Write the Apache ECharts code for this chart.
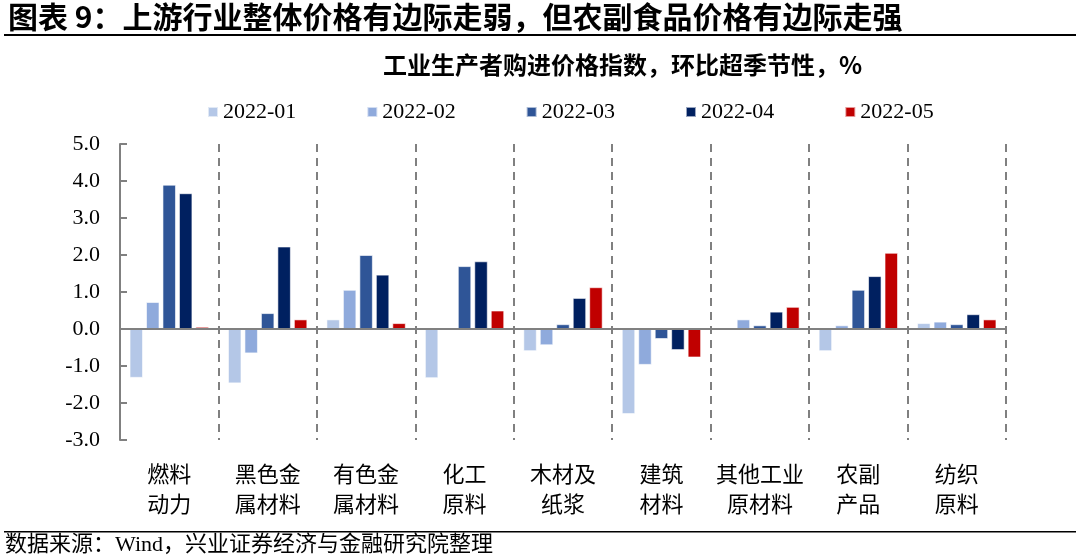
<!DOCTYPE html>
<html><head><meta charset="utf-8">
<script src="https://cdn.jsdelivr.net/npm/echarts@6/dist/echarts.min.js"></script>
<style>html,body{margin:0;padding:0;background:#fff}#c{width:1080px;height:560px}</style>
</head><body><div id="c"></div>
<script>
const categories = ['燃料\n动力','黑色金\n属材料','有色金\n属材料','化工\n原料','木材及\n纸浆','建筑\n材料','其他工业\n原材料','农副\n产品','纺织\n原料'];
const seriesNames = ['2022-01','2022-02','2022-03','2022-04','2022-05'];
const s202201 = [-1.32, -1.47, 0.26, -1.33, -0.60, -2.30, 0.00, -0.60, 0.16];
const s202202 = [0.73, -0.66, 1.06, 0.00, -0.44, -0.97, 0.26, 0.10, 0.20];
const s202203 = [3.90, 0.43, 2.00, 1.70, 0.13, -0.27, 0.10, 1.06, 0.13];
const s202204 = [3.67, 2.23, 1.47, 1.83, 0.84, -0.57, 0.47, 1.43, 0.40];
const s202205 = [0.06, 0.26, 0.16, 0.50, 1.13, -0.77, 0.60, 2.06, 0.26];
const yTicks = {min: -3, max: 5, interval: 1};
const colors = ['#B4C7E7','#8FAADC','#2F5597','#002060','#C00000'];
const allData = [s202201, s202202, s202203, s202204, s202205];

const serif = '"Liberation Serif","Noto Sans CJK SC"';
const chart = echarts.init(document.getElementById('c'));
const series = seriesNames.map((n, i) => ({
  name: n, type: 'bar', data: allData[i], barWidth: 13.5, barGap: '22%',
  itemStyle: {color: colors[i], borderColor: 'rgba(255,255,255,0.6)', borderWidth: 1},
  markLine: i === 0 ? {silent: true, symbol: 'none', label: {show: false},
    lineStyle: {color: '#808080', width: 2, type: 'solid'}, data: [{yAxis: 0}]} : undefined
}));
chart.setOption({
  animation: false,
  color: colors,
  grid: {left: 120, right: 74, top: 144, bottom: 120},
  legend: {
    data: seriesNames, left: 202, top: 96, itemWidth: 10, itemHeight: 10, itemGap: 70,
    icon: 'rect', textStyle: {fontFamily: serif, fontSize: 22, color: '#000'}
  },
  xAxis: {
    type: 'category', data: categories,
    axisLine: {show: false}, axisTick: {show: false},
    axisLabel: {fontFamily: '"Noto Sans CJK SC"', fontSize: 22, color: '#000', lineHeight: 30, margin: 19, interval: 0},
    splitLine: {show: true, lineStyle: {color: '#808080', width: 2, type: [8, 6]}}
  },
  yAxis: {
    type: 'value', min: yTicks.min, max: yTicks.max, interval: yTicks.interval,
    axisLine: {show: true, lineStyle: {color: '#808080', width: 2}},
    axisTick: {show: true, inside: true, length: 7, lineStyle: {color: '#808080', width: 2}},
    splitLine: {show: false},
    axisLabel: {fontFamily: serif, fontSize: 22, color: '#000', margin: 20, formatter: v => v.toFixed(1)}
  },
  graphic: [
    {type: 'text', left: 8, top: 2, style: {text: '图表 9：上游行业整体价格有边际走弱，但农副食品价格有边际走强', font: 'bold 30px "Noto Sans CJK SC"', fill: '#000'}},
    {type: 'rect', shape: {x: 4, y: 34, width: 1072, height: 2}, style: {fill: '#000'}},
    {type: 'text', left: 383, top: 53, style: {text: '工业生产者购进价格指数，环比超季节性，%', font: 'bold 24px "Noto Sans CJK SC"', fill: '#000'}},
    {type: 'rect', shape: {x: 4, y: 531, width: 1072, height: 1.5}, style: {fill: '#000'}},
    {type: 'text', left: 5, top: 534, style: {text: '数据来源：Wind，兴业证券经济与金融研究院整理', font: '22px "Liberation Serif","Noto Sans CJK SC"', fill: '#000'}}
  ],
  series: series
});
</script></body></html>
